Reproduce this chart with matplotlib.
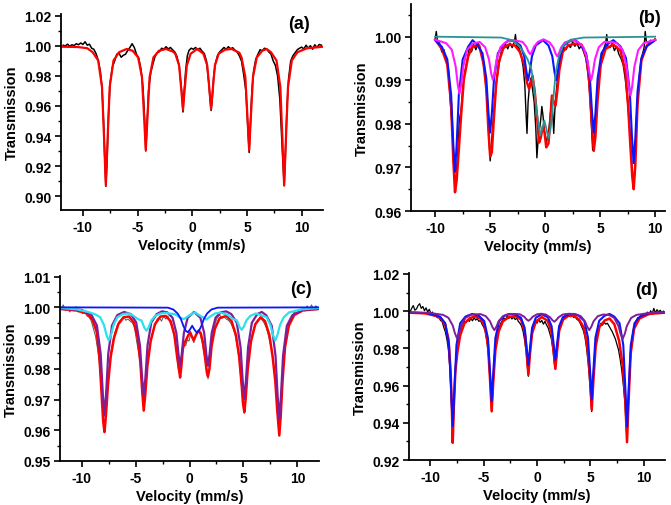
import matplotlib
matplotlib.use('Agg')
import matplotlib.pyplot as plt
from matplotlib.ticker import MultipleLocator, FormatStrFormatter

plt.rcParams['font.family'] = ['Liberation Sans', 'DejaVu Sans']
plt.rcParams['font.weight'] = 'bold'
plt.rcParams['axes.unicode_minus'] = False

# ---------------- panel (a) ----------------
a_data = [(-11.8, 1.0005), (-11.6, 1.0000), (-11.4, 1.0012), (-11.2, 0.9998), (-11.0, 1.0008), (-10.8, 1.0003),
          (-10.6, 1.0015), (-10.4, 1.0008), (-10.2, 1.0020), (-10.0, 1.0010), (-9.8, 1.0028), (-9.6, 1.0005),
          (-9.4, 1.0012), (-9.2, 0.9985), (-9.0, 0.9978), (-8.8, 0.9950), (-8.6, 0.9905), (-8.4, 0.9830),
          (-8.25, 0.9720), (-8.1, 0.9480), (-8.0, 0.925), (-7.9, 0.9065), (-7.8, 0.9220), (-7.65, 0.9560),
          (-7.5, 0.9760), (-7.3, 0.9860), (-7.1, 0.9900), (-6.9, 0.9945), (-6.7, 0.9952), (-6.5, 0.9925),
          (-6.3, 0.9938), (-6.1, 0.9945), (-5.9, 0.9970), (-5.7, 0.9990), (-5.5, 1.0015), (-5.3, 0.9990),
          (-5.1, 0.9945), (-4.9, 0.9920), (-4.7, 0.9850), (-4.5, 0.9720), (-4.35, 0.950), (-4.25, 0.930),
          (-4.15, 0.9450), (-4.0, 0.9700), (-3.8, 0.9820), (-3.6, 0.9880), (-3.4, 0.9930), (-3.2, 0.9955),
          (-3.0, 0.9962), (-2.8, 0.9985), (-2.6, 0.9978), (-2.4, 0.9995), (-2.2, 0.9980), (-2.0, 0.9990),
          (-1.8, 0.9975), (-1.6, 0.9960), (-1.4, 0.9930), (-1.2, 0.9870), (-1.05, 0.9760), (-0.95, 0.9680),
          (-0.85, 0.9560), (-0.75, 0.9690), (-0.6, 0.9840), (-0.45, 0.9935), (-0.3, 0.9970), (-0.1, 0.9985),
          (0.1, 0.9978), (0.3, 0.9990), (0.5, 0.9975), (0.7, 0.9985), (0.9, 0.9965), (1.1, 0.9950),
          (1.3, 0.9900), (1.5, 0.9760), (1.62, 0.9650), (1.72, 0.9570), (1.82, 0.9640), (1.95, 0.9790),
          (2.1, 0.9880), (2.3, 0.9935), (2.5, 0.9960), (2.7, 0.9975), (2.9, 0.9990), (3.1, 0.9978),
          (3.3, 0.9995), (3.5, 0.9982), (3.7, 0.9988), (3.9, 0.9972), (4.1, 0.9960), (4.3, 0.9935),
          (4.5, 0.9900), (4.7, 0.9810), (4.9, 0.9700), (5.05, 0.950), (5.2, 0.9290), (5.3, 0.9450),
          (5.45, 0.9700), (5.6, 0.9830), (5.8, 0.9910), (6.0, 0.9945), (6.2, 0.9975), (6.4, 0.9968),
          (6.6, 0.9985), (6.8, 0.9978), (7.0, 0.9960), (7.2, 0.9945), (7.4, 0.9900), (7.6, 0.9870),
          (7.8, 0.9800), (8.0, 0.9650), (8.15, 0.9420), (8.3, 0.9200), (8.4, 0.9070), (8.5, 0.9250),
          (8.65, 0.9580), (8.8, 0.9780), (9.0, 0.9900), (9.2, 0.9935), (9.4, 0.9955), (9.6, 0.9975),
          (9.8, 0.9985), (10.0, 0.9992), (10.2, 0.9980), (10.4, 1.0005), (10.6, 0.9985), (10.8, 1.0002),
          (11.0, 0.9978), (11.2, 1.0008), (11.4, 0.9990), (11.6, 1.0010), (11.8, 1.0005)]
a_fit = [(-12, 0.9995), (-10.5, 0.9993), (-9.6, 0.9985), (-9.1, 0.9958), (-8.6, 0.9903), (-8.25, 0.9726),
         (-8.05, 0.936), (-7.9, 0.907), (-7.75, 0.936), (-7.55, 0.9726), (-7.2, 0.9903), (-6.7, 0.9958),
         (-6.0, 0.998), (-5.45, 0.9968), (-4.95, 0.9924), (-4.6, 0.9793), (-4.4, 0.952), (-4.25, 0.9305),
         (-4.1, 0.952), (-3.9, 0.9793), (-3.55, 0.9924), (-3.05, 0.9968), (-2.4, 0.998), (-1.75, 0.9962),
         (-1.55, 0.9948), (-1.2, 0.9869), (-1.0, 0.9705), (-0.85, 0.9575), (-0.7, 0.9705), (-0.5, 0.9869),
         (-0.15, 0.9948), (0.45, 0.998), (1.02, 0.9948), (1.37, 0.987), (1.57, 0.9708), (1.72, 0.958),
         (1.87, 0.9708), (2.07, 0.987), (2.42, 0.9949), (3.0, 0.9975), (3.6, 0.998), (4.3, 0.9955),
         (4.5, 0.9924), (4.85, 0.9793), (5.05, 0.952), (5.2, 0.9305), (5.35, 0.952), (5.55, 0.9793),
         (5.9, 0.9924), (6.4, 0.9968), (6.8, 0.998), (7.2, 0.9958), (7.7, 0.9903), (8.05, 0.9726),
         (8.25, 0.936), (8.4, 0.907), (8.55, 0.936), (8.75, 0.9726), (9.1, 0.9903), (9.6, 0.9958),
         (10.5, 0.9985), (12, 0.9995)]

# ---------------- panel (b) ----------------
b_data = [(-10.0, 0.9995), (-9.9, 1.0012), (-9.8, 0.9990), (-9.6, 0.9985), (-9.4, 0.9965), (-9.2, 0.9970),
          (-9.0, 0.9945), (-8.8, 0.9925), (-8.6, 0.9840), (-8.45, 0.9790), (-8.3, 0.9700), (-8.2, 0.9660),
          (-8.1, 0.9680), (-7.95, 0.9730), (-7.8, 0.9810), (-7.65, 0.9830), (-7.5, 0.9880), (-7.3, 0.9920),
          (-7.1, 0.9945), (-6.9, 0.9975), (-6.7, 0.9965), (-6.5, 0.9982), (-6.3, 0.9970), (-6.1, 0.9985),
          (-5.9, 0.9972), (-5.7, 0.9950), (-5.5, 0.9920), (-5.3, 0.9860), (-5.15, 0.9790), (-5.0, 0.9715),
          (-4.9, 0.9750), (-4.75, 0.9800), (-4.6, 0.9850), (-4.4, 0.9900), (-4.2, 0.9935), (-4.0, 0.9965),
          (-3.8, 0.9972), (-3.6, 0.9983), (-3.4, 0.9972), (-3.2, 0.9985), (-3.0, 0.9975), (-2.8, 0.9988),
          (-2.7, 1.0005), (-2.6, 0.9980), (-2.4, 0.9975), (-2.2, 0.9960), (-2.0, 0.9930), (-1.85, 0.9890),
          (-1.75, 0.9830), (-1.65, 0.9778), (-1.55, 0.9850), (-1.45, 0.9880), (-1.3, 0.9905), (-1.15, 0.9880),
          (-1.0, 0.9850), (-0.85, 0.9790), (-0.75, 0.9722), (-0.65, 0.9760), (-0.5, 0.9790), (-0.4, 0.9810),
          (-0.3, 0.9840), (-0.2, 0.9820), (-0.1, 0.9790), (0.0, 0.9770), (0.1, 0.9755), (0.2, 0.9770),
          (0.35, 0.9790), (0.5, 0.9830), (0.6, 0.9860), (0.7, 0.9820), (0.78, 0.9778), (0.88, 0.9830),
          (1.0, 0.9870), (1.15, 0.9910), (1.3, 0.9935), (1.5, 0.9960), (1.7, 0.9975), (1.9, 0.9970),
          (2.1, 0.9982), (2.3, 0.9975), (2.5, 0.9988), (2.7, 0.9978), (2.9, 0.9985), (3.1, 0.9972),
          (3.3, 0.9980), (3.5, 0.9965), (3.7, 0.9950), (3.9, 0.9915), (4.05, 0.9870), (4.2, 0.9800),
          (4.32, 0.9740), (4.42, 0.9738), (4.55, 0.9790), (4.7, 0.9860), (4.9, 0.9910), (5.1, 0.9950),
          (5.3, 0.9970), (5.5, 0.9985), (5.6, 1.0005), (5.7, 0.9978), (5.9, 0.9975), (6.1, 0.9985),
          (6.3, 0.9968), (6.5, 0.9978), (6.7, 0.9960), (6.9, 0.9950), (7.1, 0.9935), (7.3, 0.9900),
          (7.5, 0.9850), (7.65, 0.9800), (7.8, 0.9740), (7.95, 0.9680), (8.05, 0.9655), (8.15, 0.9700),
          (8.3, 0.9790), (8.45, 0.9870), (8.6, 0.9920), (8.8, 0.9955), (9.0, 0.9975), (9.1, 1.0012),
          (9.2, 0.9990), (9.4, 0.9985), (9.6, 0.9992), (9.8, 0.9988), (10.0, 0.9995)]
b_fit = [(-10.0, 0.9993), (-9.4, 0.9972), (-8.9, 0.9936), (-8.55, 0.9844), (-8.35, 0.9716), (-8.2, 0.9643),
         (-8.05, 0.967), (-7.85, 0.9742), (-7.65, 0.9817), (-7.4, 0.9901), (-7.0, 0.9955), (-6.6, 0.9978),
         (-6.0, 0.998), (-5.6, 0.9938), (-5.35, 0.988), (-5.15, 0.9781), (-5.0, 0.9725), (-4.85, 0.9735),
         (-4.65, 0.9818), (-4.45, 0.9893), (-4.2, 0.9943), (-3.8, 0.9974), (-3.3, 0.9982), (-2.75, 0.998),
         (-2.3, 0.9965), (-1.9, 0.9935), (-1.65, 0.9895), (-1.45, 0.988), (-1.3, 0.9895), (-1.15, 0.991),
         (-0.95, 0.9875), (-0.75, 0.982), (-0.55, 0.9757), (-0.4, 0.9768), (-0.2, 0.9795), (-0.05, 0.978),
         (0.1, 0.9746), (0.3, 0.9755), (0.45, 0.980), (0.62, 0.9865), (0.78, 0.985), (0.95, 0.9842),
         (1.1, 0.9875), (1.3, 0.9925), (1.6, 0.9965), (2.1, 0.998), (2.7, 0.9984), (3.3, 0.9982),
         (3.75, 0.9955), (4.0, 0.990), (4.22, 0.981), (4.42, 0.9738), (4.57, 0.977), (4.77, 0.9855),
         (5.05, 0.9935), (5.5, 0.9972), (6.2, 0.9982), (6.85, 0.9968), (7.3, 0.992), (7.55, 0.984),
         (7.75, 0.975), (7.92, 0.968), (8.05, 0.965), (8.2, 0.9705), (8.4, 0.9845), (8.75, 0.9945),
         (9.25, 0.998), (10.0, 0.9993)]
b_site1 = [(-10.0, 0.9992), (-9.4, 0.9977), (-8.9, 0.9948), (-8.55, 0.9866), (-8.35, 0.9751), (-8.2, 0.969),
           (-8.05, 0.9751), (-7.85, 0.9866), (-7.5, 0.9948), (-7.0, 0.9977), (-6.6, 0.9992), (-6.2, 0.9982),
           (-5.7, 0.9962), (-5.35, 0.9904), (-5.15, 0.9823), (-5.0, 0.978), (-4.85, 0.9823), (-4.65, 0.9904),
           (-4.3, 0.9962), (-3.8, 0.9982), (-3.3, 0.9992), (-2.75, 0.9989), (-2.25, 0.998), (-1.9, 0.9955),
           (-1.7, 0.9919), (-1.55, 0.990), (-1.4, 0.9919), (-1.2, 0.9955), (-0.85, 0.998), (-0.2, 0.9992),
           (0.3, 0.998), (0.65, 0.9955), (0.85, 0.9919), (1.0, 0.990), (1.15, 0.9919), (1.35, 0.9955),
           (1.7, 0.998), (2.2, 0.9989), (2.7, 0.9993), (3.22, 0.9982), (3.72, 0.9962), (4.07, 0.9904),
           (4.27, 0.9823), (4.42, 0.978), (4.57, 0.9823), (4.77, 0.9904), (5.12, 0.9962), (5.62, 0.9982),
           (6.2, 0.9992), (6.85, 0.9978), (7.35, 0.9951), (7.7, 0.9874), (7.9, 0.9767), (8.05, 0.971),
           (8.2, 0.9767), (8.4, 0.9874), (8.75, 0.9951), (9.25, 0.9978), (10.0, 0.9992)]
b_site2 = [(-10.0, 0.9993), (-9.0, 0.9985), (-8.49, 0.997), (-8.14, 0.9932), (-7.94, 0.9889), (-7.79, 0.9869),
           (-7.64, 0.9889), (-7.44, 0.9932), (-7.09, 0.997), (-6.59, 0.9984), (-6.25, 0.9986), (-5.96, 0.9988),
           (-5.46, 0.9976), (-5.11, 0.9948), (-4.91, 0.9916), (-4.76, 0.9901), (-4.61, 0.9916), (-4.41, 0.9948),
           (-4.06, 0.9976), (-3.56, 0.9988), (-2.9, 0.9992), (-2.06, 0.9988), (-1.71, 0.9977), (-1.51, 0.9965),
           (-1.36, 0.996), (-1.21, 0.9965), (-1.01, 0.9977), (-0.66, 0.9988), (-0.15, 0.9994), (0.4, 0.9987),
           (0.75, 0.9975), (0.95, 0.9961), (1.1, 0.9955), (1.25, 0.9961), (1.45, 0.9975), (1.8, 0.9987),
           (2.5, 0.9992), (2.98, 0.9988), (3.48, 0.9976), (3.83, 0.9948), (4.03, 0.9916), (4.18, 0.99),
           (4.33, 0.9916), (4.53, 0.9948), (4.88, 0.9976), (5.38, 0.9988), (6.0, 0.9988), (6.56, 0.9985),
           (7.06, 0.9969), (7.41, 0.993), (7.61, 0.9885), (7.76, 0.9865), (7.91, 0.9885), (8.11, 0.993),
           (8.46, 0.9969), (8.96, 0.9985), (10.0, 0.9993)]
b_doublet = [(-10.0, 1.0000), (-4.0, 0.9998), (-3.0, 0.9992), (-2.4, 0.998), (-2.0, 0.9966), (-1.6, 0.9948),
             (-1.25, 0.9925), (-1.0, 0.9885), (-0.75, 0.9825), (-0.45, 0.9773), (-0.25, 0.9790), (-0.08, 0.9808),
             (0.1, 0.9790), (0.3, 0.9767), (0.5, 0.9790), (0.7, 0.9845), (0.95, 0.9915), (1.25, 0.9955),
             (1.65, 0.998), (2.3, 0.9993), (3.5, 0.9998), (10.0, 1.0000)]

# ---------------- panel (c) ----------------
c_data = [(-11.9, 0.9995), (-11.7, 1.0008), (-11.5, 0.9990), (-11.3, 0.9998), (-11.1, 0.9985), (-10.9, 0.9995),
          (-10.7, 0.9988), (-10.5, 1.0002), (-10.3, 0.9985), (-10.1, 0.9992), (-9.9, 0.9980), (-9.7, 0.9988),
          (-9.5, 0.9972), (-9.3, 0.9968), (-9.1, 0.9955), (-8.9, 0.9930), (-8.7, 0.9905), (-8.5, 0.9860),
          (-8.3, 0.9800), (-8.15, 0.9720), (-8.0, 0.9640), (-7.88, 0.9600), (-7.75, 0.9650), (-7.6, 0.9730),
          (-7.45, 0.9800), (-7.3, 0.9850), (-7.1, 0.9890), (-6.9, 0.9920), (-6.7, 0.9940), (-6.5, 0.9955),
          (-6.3, 0.9962), (-6.1, 0.9970), (-5.9, 0.9958), (-5.7, 0.9962), (-5.5, 0.9955), (-5.3, 0.9950),
          (-5.1, 0.9935), (-4.9, 0.9890), (-4.7, 0.9850), (-4.5, 0.9790), (-4.35, 0.9720), (-4.24, 0.9670),
          (-4.1, 0.9720), (-3.95, 0.9800), (-3.8, 0.9850), (-3.6, 0.9890), (-3.4, 0.9920), (-3.2, 0.9945),
          (-3.0, 0.9962), (-2.8, 0.9968), (-2.6, 0.9955), (-2.4, 0.9970), (-2.2, 0.9962), (-2.0, 0.9972),
          (-1.8, 0.9950), (-1.6, 0.9935), (-1.4, 0.9905), (-1.2, 0.9850), (-1.05, 0.9800), (-0.95, 0.9790),
          (-0.87, 0.9770), (-0.78, 0.9800), (-0.65, 0.9850), (-0.5, 0.9880), (-0.35, 0.9875), (-0.2, 0.9895),
          (-0.05, 0.9890), (0.1, 0.9912), (0.25, 0.9900), (0.4, 0.9885), (0.55, 0.9905), (0.7, 0.9920),
          (0.85, 0.9925), (1.0, 0.9910), (1.15, 0.9890), (1.3, 0.9860), (1.45, 0.9830), (1.6, 0.9800),
          (1.72, 0.9767), (1.85, 0.9810), (2.0, 0.9870), (2.2, 0.9920), (2.4, 0.9950), (2.6, 0.9968),
          (2.8, 0.9975), (3.0, 0.9965), (3.2, 0.9970), (3.4, 0.9962), (3.6, 0.9958), (3.8, 0.9950),
          (4.0, 0.9935), (4.2, 0.9915), (4.4, 0.9880), (4.6, 0.9830), (4.75, 0.9770), (4.9, 0.9710),
          (5.0, 0.9670), (5.08, 0.9655), (5.2, 0.9705), (5.35, 0.9790), (5.5, 0.9850), (5.7, 0.9890),
          (5.9, 0.9925), (6.1, 0.9948), (6.3, 0.9958), (6.5, 0.9965), (6.7, 0.9960), (6.9, 0.9950),
          (7.1, 0.9935), (7.3, 0.9910), (7.5, 0.9880), (7.7, 0.9845), (7.9, 0.9780), (8.05, 0.9720),
          (8.2, 0.9640), (8.32, 0.9583), (8.45, 0.9640), (8.6, 0.9740), (8.75, 0.9830), (8.9, 0.9880),
          (9.1, 0.9925), (9.3, 0.9955), (9.5, 0.9970), (9.7, 0.9985), (9.9, 0.9978), (10.1, 0.9990),
          (10.3, 0.9985), (10.5, 0.9998), (10.7, 0.9988), (10.9, 1.0005), (11.1, 0.9990), (11.3, 1.0008),
          (11.5, 0.9995), (11.7, 1.0005), (11.9, 0.9998)]
c_fit = [(-12, 0.9995), (-10.5, 0.9990), (-9.5, 0.998), (-9.0, 0.996), (-8.6, 0.992), (-8.35, 0.984),
         (-8.15, 0.972), (-8.0, 0.963), (-7.88, 0.9594), (-7.75, 0.9645), (-7.55, 0.975), (-7.3, 0.984),
         (-7.0, 0.990), (-6.6, 0.9945), (-6.1, 0.9968), (-5.6, 0.997), (-5.15, 0.995), (-4.8, 0.990),
         (-4.55, 0.982), (-4.38, 0.9725), (-4.24, 0.9664), (-4.1, 0.9715), (-3.9, 0.981), (-3.6, 0.989),
         (-3.2, 0.9945), (-2.7, 0.997), (-2.2, 0.9972), (-1.75, 0.9955), (-1.4, 0.991), (-1.15, 0.984),
         (-0.98, 0.980), (-0.87, 0.9772), (-0.75, 0.981), (-0.62, 0.9865), (-0.45, 0.9885), (-0.3, 0.9895),
         (-0.1, 0.991), (0.06, 0.9919), (0.22, 0.9905), (0.4, 0.9893), (0.6, 0.991), (0.85, 0.9925),
         (1.05, 0.9915), (1.25, 0.9885), (1.45, 0.9835), (1.6, 0.979), (1.71, 0.9775), (1.85, 0.980),
         (2.05, 0.9875), (2.35, 0.993), (2.8, 0.9965), (3.4, 0.9972), (3.9, 0.9955), (4.3, 0.991),
         (4.6, 0.984), (4.85, 0.974), (4.95, 0.969), (5.08, 0.9659), (5.2, 0.970), (5.4, 0.980),
         (5.7, 0.989), (6.1, 0.9945), (6.6, 0.9968), (7.0, 0.9955), (7.4, 0.991), (7.7, 0.984),
         (7.95, 0.976), (8.12, 0.967), (8.32, 0.9583), (8.45, 0.9645), (8.62, 0.976), (8.85, 0.987),
         (9.2, 0.994), (9.7, 0.9975), (10.5, 0.999), (12, 0.9995)]
c_site1 = [(-12, 0.9995), (-10, 0.9992), (-9.08, 0.9975), (-8.58, 0.9941), (-8.23, 0.9848), (-8.03, 0.9717),
           (-7.88, 0.9648), (-7.73, 0.9717), (-7.53, 0.9848), (-7.18, 0.9941), (-6.68, 0.9975), (-6.06, 0.9985),
           (-5.44, 0.9978), (-4.94, 0.9951), (-4.59, 0.9876), (-4.39, 0.9769), (-4.24, 0.9713), (-4.09, 0.9769),
           (-3.89, 0.9876), (-3.54, 0.9951), (-3.04, 0.9978), (-2.55, 0.9987), (-2.07, 0.9984), (-1.57, 0.9966),
           (-1.22, 0.9917), (-1.02, 0.9847), (-0.87, 0.981), (-0.72, 0.9847), (-0.52, 0.9917), (-0.17, 0.9966),
           (0.42, 0.9985), (1.01, 0.9966), (1.36, 0.9917), (1.56, 0.9847), (1.71, 0.981), (1.86, 0.9847),
           (2.06, 0.9917), (2.41, 0.9966), (2.91, 0.9984), (3.4, 0.9987), (3.88, 0.9978), (4.38, 0.995),
           (4.73, 0.9871), (4.93, 0.9761), (5.08, 0.9702), (5.23, 0.9761), (5.43, 0.9871), (5.78, 0.995),
           (6.28, 0.9978), (6.7, 0.9985), (7.12, 0.9974), (7.62, 0.994), (7.97, 0.9843), (8.17, 0.9709),
           (8.32, 0.9637), (8.47, 0.9709), (8.67, 0.9843), (9.02, 0.994), (9.52, 0.9974), (10.5, 0.9992),
           (12, 0.9995)]
c_site2 = [(-12, 0.9998), (-10.5, 0.9994), (-9.4, 0.9985), (-8.78, 0.9978), (-8.28, 0.9968), (-7.93, 0.9943),
           (-7.68, 0.9909), (-7.48, 0.9892), (-7.28, 0.9909), (-7.03, 0.9943), (-6.68, 0.9968), (-6.18, 0.9978),
           (-5.7, 0.998), (-5.29, 0.9975), (-4.79, 0.9962), (-4.44, 0.9957), (-4.19, 0.9934), (-3.99, 0.9924),
           (-3.79, 0.9934), (-3.54, 0.9957), (-3.19, 0.9972), (-2.69, 0.998), (-2.2, 0.9982), (-1.86, 0.998),
           (-1.36, 0.9978), (-1.01, 0.997), (-0.76, 0.9965), (-0.56, 0.9962), (-0.36, 0.9965), (-0.11, 0.9972),
           (0.5, 0.9984), (1.1, 0.997), (1.36, 0.9966), (1.56, 0.996), (1.76, 0.9966), (2.01, 0.9972),
           (2.36, 0.998), (2.86, 0.9983), (3.53, 0.9976), (4.03, 0.9962), (4.38, 0.9958), (4.63, 0.9937),
           (4.83, 0.9927), (5.03, 0.9937), (5.28, 0.9958), (5.63, 0.9972), (6.13, 0.998), (6.6, 0.9975),
           (7.14, 0.9968), (7.49, 0.9943), (7.74, 0.9909), (7.94, 0.9892), (8.14, 0.9909), (8.39, 0.9943),
           (8.74, 0.9968), (9.24, 0.9984), (10.5, 0.9994), (12, 0.9998)]
c_doublet = [(-12, 1.0), (-2.0, 0.9999), (-1.5, 0.9993), (-1.1, 0.998), (-0.8, 0.9962), (-0.55, 0.9938),
             (-0.35, 0.9924), (-0.16, 0.9919), (0.05, 0.9928), (0.25, 0.994), (0.45, 0.9928), (0.69, 0.9917),
             (0.88, 0.9924), (1.08, 0.9938), (1.33, 0.9962), (1.63, 0.998), (2.03, 0.9993), (2.6, 0.9999),
             (12, 1.0)]

# ---------------- panel (d) ----------------
d_data = [(-11.9, 0.9995), (-11.75, 1.0015), (-11.6, 1.003), (-11.45, 1.0005), (-11.3, 1.0012), (-11.15, 1.0030),
          (-11.0, 1.0040), (-10.85, 1.0015), (-10.7, 1.0025), (-10.55, 1.0002), (-10.4, 1.0018), (-10.25, 0.9995),
          (-10.1, 1.0010), (-9.95, 0.9988), (-9.8, 0.9995), (-9.65, 0.9975), (-9.5, 0.9985), (-9.35, 0.9965),
          (-9.2, 0.9968), (-9.05, 0.9950), (-8.9, 0.9945), (-8.75, 0.9915), (-8.6, 0.9890), (-8.45, 0.9850),
          (-8.3, 0.9790), (-8.15, 0.9680), (-8.02, 0.9500), (-7.9, 0.9300), (-7.8, 0.9470), (-7.68, 0.9650),
          (-7.55, 0.9760), (-7.4, 0.9810), (-7.25, 0.9860), (-7.1, 0.9900), (-6.95, 0.9920), (-6.8, 0.9945),
          (-6.65, 0.9938), (-6.5, 0.9955), (-6.35, 0.9945), (-6.2, 0.9960), (-6.05, 0.9948), (-5.9, 0.9965),
          (-5.75, 0.9952), (-5.6, 0.9960), (-5.45, 0.9945), (-5.3, 0.9950), (-5.15, 0.9930), (-5.0, 0.9915),
          (-4.85, 0.9890), (-4.7, 0.9840), (-4.55, 0.9760), (-4.4, 0.9620), (-4.25, 0.9460), (-4.12, 0.9580),
          (-4.0, 0.9740), (-3.85, 0.9830), (-3.7, 0.9880), (-3.55, 0.9910), (-3.4, 0.9935), (-3.25, 0.9950),
          (-3.1, 0.9962), (-2.95, 0.9955), (-2.8, 0.9972), (-2.65, 0.9960), (-2.5, 0.9970), (-2.35, 0.9958),
          (-2.2, 0.9968), (-2.05, 0.9955), (-1.9, 0.9962), (-1.75, 0.9945), (-1.6, 0.9935), (-1.45, 0.9920),
          (-1.3, 0.9890), (-1.15, 0.9840), (-1.0, 0.9770), (-0.9, 0.9700), (-0.81, 0.9650), (-0.72, 0.9720),
          (-0.6, 0.9820), (-0.45, 0.9890), (-0.3, 0.9920), (-0.15, 0.9945), (0.0, 0.9935), (0.15, 0.9955),
          (0.3, 0.9940), (0.45, 0.9950), (0.6, 0.9930), (0.75, 0.9945), (0.9, 0.9925), (1.05, 0.9910),
          (1.2, 0.9880), (1.35, 0.9850), (1.5, 0.9790), (1.62, 0.9720), (1.72, 0.9690), (1.82, 0.9740),
          (1.95, 0.9830), (2.1, 0.9900), (2.25, 0.9935), (2.4, 0.9955), (2.55, 0.9965), (2.7, 0.9985),
          (2.85, 0.9975), (3.0, 0.9980), (3.15, 0.9970), (3.3, 0.9978), (3.45, 0.9965), (3.6, 0.9970),
          (3.75, 0.9955), (3.9, 0.9950), (4.05, 0.9935), (4.2, 0.9915), (4.35, 0.9895), (4.5, 0.9860),
          (4.65, 0.9800), (4.8, 0.9720), (4.95, 0.9610), (5.05, 0.9520), (5.13, 0.9460), (5.25, 0.9600),
          (5.4, 0.9760), (5.55, 0.9850), (5.7, 0.9890), (5.85, 0.9915), (6.0, 0.9935), (6.15, 0.9925),
          (6.3, 0.9940), (6.45, 0.9930), (6.6, 0.9935), (6.75, 0.9920), (6.9, 0.9905), (7.05, 0.9890),
          (7.2, 0.9870), (7.35, 0.9850), (7.5, 0.9820), (7.65, 0.9790), (7.8, 0.9740), (7.95, 0.9680),
          (8.1, 0.9600), (8.25, 0.9500), (8.35, 0.9380), (8.44, 0.9310), (8.55, 0.9480), (8.7, 0.9680),
          (8.85, 0.9820), (9.0, 0.9890), (9.15, 0.9925), (9.3, 0.9950), (9.45, 0.9965), (9.6, 0.9960),
          (9.75, 0.9978), (9.9, 0.9970), (10.05, 0.9985), (10.2, 0.9975), (10.35, 0.9995), (10.5, 0.9980),
          (10.65, 1.0002), (10.8, 0.9985), (10.95, 1.0015), (11.1, 0.9990), (11.25, 1.0008), (11.4, 0.9995),
          (11.55, 1.0005), (11.7, 0.9992), (11.85, 1.0000)]
d_fit = [(-12, 0.9992), (-10.5, 0.9988), (-9.5, 0.9975), (-9.0, 0.996), (-8.6, 0.9925), (-8.3, 0.985),
         (-8.1, 0.968), (-7.98, 0.948), (-7.9, 0.9292), (-7.8, 0.948), (-7.65, 0.968), (-7.45, 0.9785),
         (-7.2, 0.987), (-6.8, 0.9935), (-6.3, 0.9962), (-5.8, 0.9972), (-5.3, 0.996), (-4.9, 0.992),
         (-4.6, 0.982), (-4.42, 0.965), (-4.25, 0.9462), (-4.1, 0.962), (-3.9, 0.979), (-3.6, 0.989),
         (-3.2, 0.9945), (-2.6, 0.997), (-2.0, 0.9972), (-1.5, 0.9955), (-1.15, 0.989), (-0.96, 0.977),
         (-0.81, 0.9658), (-0.66, 0.977), (-0.46, 0.988), (-0.1, 0.9945), (0.45, 0.9968), (1.0, 0.9948),
         (1.35, 0.989), (1.56, 0.9785), (1.72, 0.969), (1.88, 0.9785), (2.08, 0.9895), (2.45, 0.9955),
         (2.95, 0.9975), (3.45, 0.9975), (3.95, 0.9955), (4.4, 0.991), (4.7, 0.982), (4.95, 0.966),
         (5.13, 0.947), (5.3, 0.964), (5.5, 0.981), (5.85, 0.9915), (6.35, 0.995), (6.8, 0.996),
         (7.25, 0.993), (7.7, 0.984), (8.05, 0.970), (8.28, 0.952), (8.44, 0.9296), (8.58, 0.951),
         (8.78, 0.977), (9.1, 0.9905), (9.6, 0.996), (10.5, 0.9985), (12, 0.9992)]
d_site1 = [(-12, 0.9993), (-10.3, 0.999), (-9.1, 0.9971), (-8.6, 0.9935), (-8.25, 0.9818), (-8.05, 0.9574),
           (-7.9, 0.9381), (-7.75, 0.9574), (-7.55, 0.9818), (-7.2, 0.9935), (-6.7, 0.9971), (-6.08, 0.9985),
           (-5.45, 0.9975), (-4.95, 0.9947), (-4.6, 0.9856), (-4.4, 0.9666), (-4.25, 0.9515), (-4.1, 0.9666),
           (-3.9, 0.9856), (-3.55, 0.9947), (-3.05, 0.9975), (-2.53, 0.9985), (-2.01, 0.9981), (-1.51, 0.9965),
           (-1.16, 0.9911), (-0.96, 0.9799), (-0.81, 0.971), (-0.66, 0.9799), (-0.46, 0.9911), (-0.11, 0.9965),
           (0.45, 0.9983), (1.02, 0.9967), (1.37, 0.9919), (1.57, 0.9818), (1.72, 0.9738), (1.87, 0.9818),
           (2.07, 0.9919), (2.42, 0.9967), (2.92, 0.9982), (3.43, 0.9985), (3.93, 0.9975), (4.43, 0.9948),
           (4.78, 0.9858), (4.98, 0.9672), (5.13, 0.9524), (5.28, 0.9672), (5.48, 0.9858), (5.83, 0.9948),
           (6.33, 0.9975), (6.8, 0.9985), (7.24, 0.9971), (7.74, 0.9935), (8.09, 0.9817), (8.29, 0.9573),
           (8.44, 0.938), (8.59, 0.9573), (8.79, 0.9817), (9.14, 0.9935), (9.64, 0.9971), (10.5, 0.999),
           (12, 0.9993)]
d_site2 = [(-12, 0.9993), (-10, 0.999), (-8.8, 0.998), (-8.3, 0.9964), (-7.9, 0.9923), (-7.7, 0.9882),
           (-7.5, 0.9854), (-7.3, 0.9882), (-7.1, 0.9923), (-6.7, 0.9964), (-6.2, 0.998), (-5.75, 0.9983),
           (-5.3, 0.9984), (-4.8, 0.9973), (-4.4, 0.9945), (-4.2, 0.9917), (-4.0, 0.9898), (-3.8, 0.9917),
           (-3.6, 0.9945), (-3.2, 0.9973), (-2.7, 0.9984), (-2.1, 0.9985), (-1.6, 0.9983), (-1.2, 0.997),
           (-1.0, 0.9957), (-0.8, 0.9948), (-0.6, 0.9957), (-0.4, 0.997), (0.0, 0.9983), (0.4, 0.9986),
           (0.82, 0.9982), (1.22, 0.9967), (1.42, 0.9953), (1.62, 0.9943), (1.82, 0.9953), (2.02, 0.9967),
           (2.42, 0.9982), (3.0, 0.9986), (3.6, 0.9984), (4.1, 0.9973), (4.5, 0.9945), (4.7, 0.9917),
           (4.9, 0.9898), (5.1, 0.9917), (5.3, 0.9945), (5.7, 0.9973), (6.2, 0.9982), (6.73, 0.998),
           (7.23, 0.9964), (7.63, 0.9921), (7.83, 0.9878), (8.03, 0.985), (8.23, 0.9878), (8.43, 0.9921),
           (8.83, 0.9964), (9.33, 0.998), (10.5, 0.999), (12, 0.9993)]

RED = '#ff0000'
BLUE = '#0a14ff'
MAGENTA = '#ff1aff'
TEAL = '#2a9494'
PURPLE = '#7d1f9c'
CYAN = '#2ee0ee'


def px_box(left, top, right, bottom, w=671, h=506):
    return [left / w, 1 - bottom / h, (right - left) / w, (bottom - top) / h]


def draw_panel(ax, curves, xlim, ylim, ymajor, letter, letter_xy):
    for pts, color, lw in curves:
        v, t = zip(*pts)
        ax.plot(v, t, color=color, lw=lw, solid_joinstyle='round')
    ax.set_xlim(*xlim)
    ax.set_ylim(*ylim)
    ax.xaxis.set_major_locator(MultipleLocator(5))
    ax.xaxis.set_minor_locator(MultipleLocator(2.5))
    ax.yaxis.set_major_locator(MultipleLocator(ymajor))
    ax.yaxis.set_minor_locator(MultipleLocator(ymajor / 2))
    ax.yaxis.set_major_formatter(FormatStrFormatter('%.2f'))
    ax.spines['top'].set_visible(False)
    ax.spines['right'].set_visible(False)
    for s in ('left', 'bottom'):
        ax.spines[s].set_linewidth(1.3)
    ax.tick_params(which='major', direction='out', length=4, width=1.2, labelsize=10, pad=3)
    ax.tick_params(which='minor', direction='out', length=2.5, width=1.0)
    for lab in ax.get_xticklabels() + ax.get_yticklabels():
        lab.set_fontweight('bold')
    ax.set_xlabel('Velocity (mm/s)', fontsize=10.5, fontweight='bold', labelpad=3)
    ax.set_ylabel('Transmission', fontsize=10.5, fontweight='bold', labelpad=4)
    ax.text(letter_xy[0], letter_xy[1], letter, transform=ax.transAxes, ha='center', va='center',
            fontsize=13, fontweight='bold')


fig = plt.figure(figsize=(6.71, 5.06), dpi=100)

ax_a = fig.add_axes(px_box(61, 15, 323, 211))
draw_panel(ax_a, [(a_data, 'black', 1.1), (a_fit, RED, 1.6)],
           (-12, 11.95), (0.8907, 1.0213), 0.02, '(a)', (0.91, 0.95))

ax_b = fig.add_axes(px_box(411, 5, 665, 212))
draw_panel(ax_b, [(b_data, 'black', 1.0), (b_fit, RED, 1.8), (b_site1, BLUE, 1.5),
                  (b_site2, MAGENTA, 1.5), (b_doublet, TEAL, 1.3)],
           (-12.2, 10.9), (0.96, 1.0075), 0.01, '(b)', (0.94, 0.937))

ax_c = fig.add_axes(px_box(60, 277, 319, 462))
draw_panel(ax_c, [(c_data, '#555555', 0.7), (c_fit, RED, 1.8), (c_site1, PURPLE, 1.6),
                  (c_site2, CYAN, 1.6), (c_doublet, BLUE, 1.3)],
           (-12, 12), (0.95, 1.0102), 0.01, '(c)', (0.932, 0.93))

ax_d = fig.add_axes(px_box(409, 274, 665, 461))
draw_panel(ax_d, [(d_data, 'black', 0.9), (d_fit, RED, 1.8), (d_site1, BLUE, 1.5),
                  (d_site2, PURPLE, 1.4)],
           (-12, 12), (0.92, 1.0205), 0.02, '(d)', (0.928, 0.914))

fig.savefig('out.png', dpi=100)
